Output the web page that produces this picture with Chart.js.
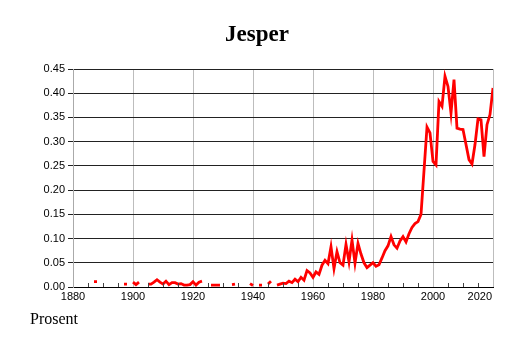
<!DOCTYPE html>
<html>
<head>
<meta charset="utf-8">
<script src="https://cdn.jsdelivr.net/npm/chart.js@4"></script>
<style>
  html, body { margin: 0; padding: 0; background: #fff; }
  #wrap { position: relative; width: 514px; height: 343px; }
  #title {
    position: absolute; left: 0; width: 514px; top: 21px;
    text-align: center; font: bold 23px "Liberation Serif", serif; color: #000;
  }
  #unit {
    position: absolute; left: 30px; top: 310px;
    font: 16px "Liberation Serif", serif; color: #000;
  }
</style>
</head>
<body>
<div id="wrap">
  <canvas id="chart" width="514" height="343"></canvas>
  <div id="title">Jesper</div>
  <div id="unit">Prosent</div>
</div>
<script>
// years 1880..2020, one value per year (null = not shown)
const firstYear = 1880;
const lastYear = 2020;
const years = Array.from({ length: lastYear - firstYear + 1 }, (_, i) => firstYear + i);

const values = [
  // 1880-1889
  null, null, null, null, null, null, null, 0.011, 0.011, null,
  // 1890-1899
  null, null, null, null, null, null, null, 0.006, 0.006, null,
  // 1900-1909
  0.010, 0.005, 0.010, null, null, 0.006, 0.006, 0.010, 0.015, 0.010,
  // 1910-1919
  0.006, 0.012, 0.005, 0.009, 0.009, 0.006, 0.007, 0.004, 0.004, 0.005,
  // 1920-1929
  0.011, 0.004, 0.010, 0.012, null, null, 0.004, 0.004, 0.004, 0.004,
  // 1930-1939
  null, null, null, 0.005, 0.006, null, null, null, null, 0.007,
  // 1940-1949
  0.003, null, 0.004, 0.004, null, 0.006, 0.012, null, 0.004, 0.006,
  // 1950-1959
  0.008, 0.007, 0.012, 0.009, 0.016, 0.011, 0.020, 0.014, 0.034, 0.029,
  // 1960-1969
  0.020, 0.031, 0.026, 0.045, 0.055, 0.048, 0.083, 0.038, 0.073, 0.050,
  // 1970-1979
  0.045, 0.088, 0.052, 0.097, 0.049, 0.090, 0.068, 0.050, 0.040, 0.045,
  // 1980-1989
  0.050, 0.043, 0.046, 0.060, 0.075, 0.085, 0.104, 0.087, 0.080, 0.095,
  // 1990-1999
  0.104, 0.093, 0.110, 0.123, 0.131, 0.135, 0.150, 0.240, 0.330, 0.318,
  // 2000-2009
  0.259, 0.252, 0.383, 0.373, 0.435, 0.414, 0.359, 0.428, 0.328, 0.326,
  // 2010-2019
  0.325, 0.294, 0.263, 0.254, 0.294, 0.347, 0.345, 0.269, 0.335, 0.356,
  // 2020
  0.411
];

const yTicks = [0, 0.05, 0.10, 0.15, 0.20, 0.25, 0.30, 0.35, 0.40, 0.45];
const xMajorTicks = [1880, 1900, 1920, 1940, 1960, 1980, 2000, 2020];

const points = years.map((yr, i) => ({ x: yr, y: values[i] }));

// small inward ticks every 5 years, and the last year label kept inside the plot width
const axisExtras = {
  id: 'axisExtras',
  afterDraw(chart) {
    const ctx = chart.ctx;
    const xs = chart.scales.x;
    const area = chart.chartArea;
    ctx.save();
    ctx.strokeStyle = '#444';
    ctx.lineWidth = 1;
    for (let yr = firstYear; yr <= lastYear; yr += 5) {
      if (xMajorTicks.includes(yr)) continue;
      const px = Math.round(xs.getPixelForValue(yr)) + 0.5;
      ctx.beginPath();
      ctx.moveTo(px, area.bottom);
      ctx.lineTo(px, area.bottom - 4);
      ctx.stroke();
    }
    ctx.fillStyle = '#000';
    ctx.font = '11px "Liberation Sans"';
    ctx.textAlign = 'right';
    ctx.textBaseline = 'top';
    ctx.fillText(String(lastYear), xs.getPixelForValue(lastYear) - 1, area.bottom + 4);
    ctx.restore();
  }
};

new Chart(document.getElementById('chart'), {
  type: 'line',
  data: {
    datasets: [{
      data: points,
      borderColor: '#ff0000',
      borderWidth: 2.8,
      pointRadius: 0,
      tension: 0,
      spanGaps: false
    }]
  },
  options: {
    responsive: false,
    animation: false,
    layout: { padding: { top: 69, right: 21, bottom: 0, left: 0 } },
    plugins: {
      legend: { display: false },
      tooltip: { enabled: false }
    },
    scales: {
      x: {
        type: 'linear',
        min: firstYear,
        max: lastYear,
        afterFit: s => { s.height = 56; },
        afterBuildTicks: s => { s.ticks = xMajorTicks.map(v => ({ value: v })); },
        grid: {
          color: '#bdbdbd',
          lineWidth: 1,
          drawTicks: false
        },
        border: { display: true, color: '#000', width: 1 },
        ticks: {
          autoSkip: false,
          maxRotation: 0,
          padding: 3,
          color: '#000',
          font: { family: 'Liberation Sans', size: 11 },
          callback: v => (v === lastYear ? '' : String(v))
        }
      },
      y: {
        min: 0,
        max: 0.45,
        afterFit: s => { s.width = 73; },
        afterBuildTicks: s => { s.ticks = yTicks.map(v => ({ value: v })); },
        grid: {
          color: '#222',
          lineWidth: 1,
          drawTicks: true,
          tickLength: 5,
          tickColor: '#222'
        },
        border: { display: true, color: '#aaa', width: 1 },
        ticks: {
          padding: 3,
          color: '#000',
          font: { family: 'Liberation Sans', size: 11 },
          callback: v => v.toFixed(2)
        }
      }
    }
  },
  plugins: [axisExtras]
});
</script>
</body>
</html>
